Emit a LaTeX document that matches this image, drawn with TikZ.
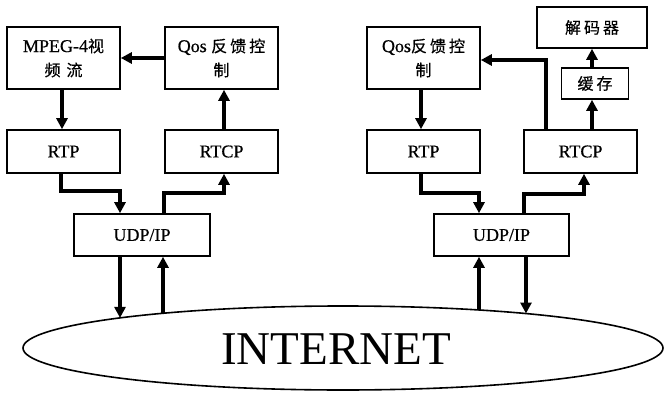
\documentclass[tikz,border=0pt]{standalone}
\usepackage{fontspec}
\setmainfont{Liberation Serif}
\newfontfamily\lab[FakeBold=0.6]{Liberation Serif}
\newfontfamily\cjk[FakeBold=0.5]{Noto Sans CJK SC}
\usetikzlibrary{arrows.meta,shapes.geometric}
\newcommand\zh[1]{{\cjk\fontsize{16}{24}\selectfont #1}}
\newcommand\gap{\hspace{3pt}}
\begin{document}
\begin{tikzpicture}[x=1pt,y=-1pt,
  box/.style={draw,line width=1.6pt,inner sep=0pt,align=center,
    font=\lab\fontsize{18}{24}\selectfont},
  wide/.style={box,minimum width=113pt},
  tall/.style={minimum height=62pt},
  low/.style={minimum height=43pt},
  link/.style={line width=3.2pt,-{Triangle[length=11pt,width=11pt]}},
  ]
\useasboundingbox[fill=white] (0,0) rectangle (664,393);

% sender side
\node[wide,tall] (mpeg)  at (63.5,58)   {MPEG-4\zh{视}\\\zh{频\gap\gap 流}};
\node[wide,tall] (qosL)  at (221.5,58)  {Qos \zh{反\gap 馈\gap 控}\\\zh{制}};
\node[wide,low]  (rtpL)  at (63.5,151.5)  {RTP};
\node[wide,low]  (rtcpL) at (221.5,151.5) {RTCP};
\node[box,minimum width=136pt,minimum height=42pt] (udpL) at (142,235) {UDP/IP};

% receiver side
\node[wide,tall] (qosR)  at (423.5,58)  {Qos\zh{反\gap 馈\gap 控}\\\zh{制}};
\node[wide,low]  (rtpR)  at (423.5,151.5) {RTP};
\node[wide,low]  (rtcpR) at (580.5,151.5) {RTCP};
\node[box,minimum width=135pt,minimum height=42pt] (udpR) at (501.5,235) {UDP/IP};
\node[box,minimum width=110pt,minimum height=41pt] (dec) at (592,27.5) {\zh{解\gap 码\gap 器}};
\node[box,minimum width=67pt,minimum height=31pt] (buf) at (595,83.5) {\zh{缓\gap 存}};

% network cloud
\node[draw,ellipse,line width=1.6pt,minimum width=640pt,minimum height=84pt,inner sep=0pt] (net) at (343,348) {};
\node[font=\fontsize{47}{47}\selectfont] (inet) at (336,349) {INTERNET};

% points where the vertical links meet the ellipse
\coordinate (eL1) at (120,317.9);
\coordinate (eL2) at (163,313.3);
\coordinate (eR1) at (479,310.0);
\coordinate (eR2) at (526,313.5);

% sender links
\draw[link] (qosL.west) -- (mpeg.east);
\draw[link] (mpeg.south -| 62,0) -- (rtpL.north -| 62,0);
\draw[link] (rtcpL.north -| 224,0) -- (qosL.south -| 224,0);
\draw[link] (rtpL.south -| 61,0) |- (120,191) -- (udpL.north -| 120,0);
\draw[link] (udpL.north -| 164,0) |- (224,193) -- (rtcpL.south -| 224,0);
\draw[link] (udpL.south -| 120,0) -- (eL1);
\draw[link] (eL2) -- (udpL.south -| 163,0);

% receiver links
\draw[link] (qosR.south -| 421,0) -- (rtpR.north -| 421,0);
\draw[link] (rtcpR.north -| 546,0) |- (qosR.east |- 0,60);
\draw[link] (rtcpR.north -| 592,0) -- (buf.south -| 592,0);
\draw[link] (buf.north -| 592,0) -- (dec.south -| 592,0);
\draw[link] (rtpR.south -| 421,0) |- (479,193) -- (udpR.north -| 479,0);
\draw[link] (udpR.north -| 524,0) |- (584,194) -- (rtcpR.south -| 584,0);
\draw[link] (eR1) -- (udpR.south -| 479,0);
\draw[link] (udpR.south -| 526,0) -- (eR2);
\end{tikzpicture}
\end{document}
